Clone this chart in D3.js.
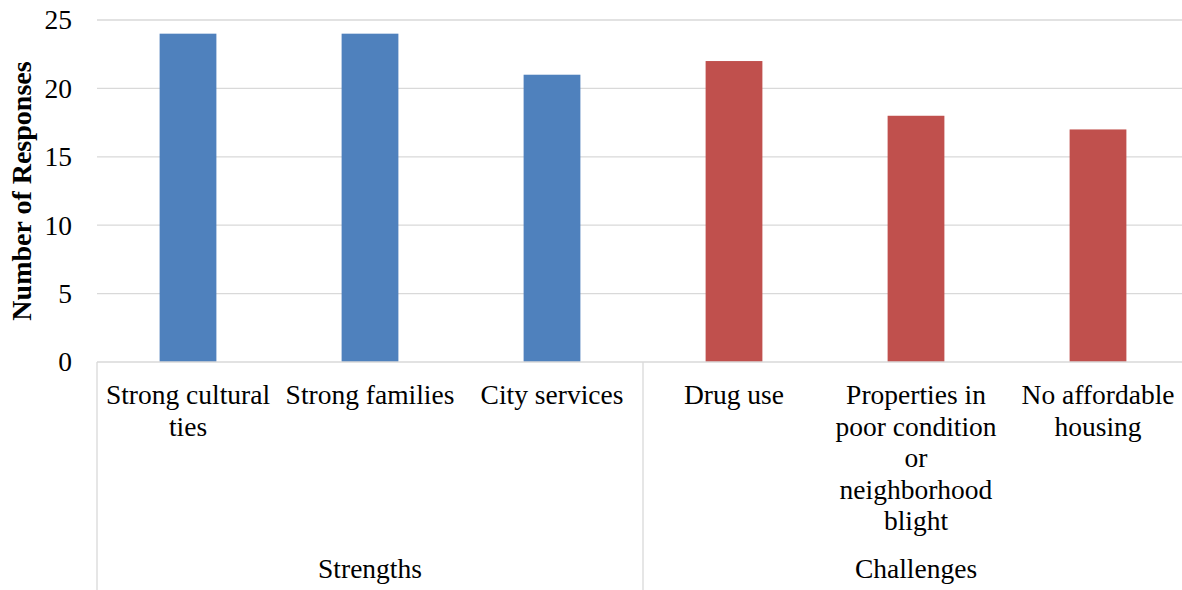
<!DOCTYPE html>
<html>
<head>
<meta charset="utf-8">
<script src="https://cdn.jsdelivr.net/npm/d3@7"></script>
<style>
  html, body { margin: 0; padding: 0; background: #fff; }
  svg { display: block; }
  text { font-family: "Liberation Serif", "Times New Roman", serif; fill: #000; }
</style>
</head>
<body>
<svg id="chart" width="1182" height="590"></svg>
<script>
// Survey responses: community strengths and challenges
const categories = ["Strong cultural ties", "Strong families", "City services",
                    "Drug use", "Properties in poor condition or neighborhood blight", "No affordable housing"];
const groups = ["Strengths", "Strengths", "Strengths", "Challenges", "Challenges", "Challenges"];
const values = [24, 24, 21, 22, 18, 17];
const groupNames = ["Strengths", "Challenges"];
const yTicks = [0, 5, 10, 15, 20, 25];

const colors = { Strengths: "#4f81bd", Challenges: "#c0504d" };
const gridColor = "#d9d9d9";
const fontSize = 27.5;

const svg = d3.select("#chart");
const margin = { left: 97, top: 20, right: -7, bottom: 228 };
const W = 1182, H = 590;
const plotRight = W - margin.right;
const plotBottom = H - margin.bottom;

const x = d3.scaleBand().domain(categories).range([margin.left, plotRight]).padding(0);
const y = d3.scaleLinear().domain([0, 25]).range([plotBottom, margin.top]);

// Horizontal gridlines
svg.append("g").selectAll("line").data(yTicks.filter(t => t > 0)).join("line")
  .attr("x1", margin.left).attr("x2", plotRight)
  .attr("y1", d => y(d)).attr("y2", d => y(d))
  .attr("stroke", gridColor).attr("stroke-width", 1.3);

// Y axis tick labels
const yAxis = d3.axisLeft(y).tickValues(yTicks).tickSize(0).tickPadding(25);
const yg = svg.append("g").attr("transform", `translate(${margin.left},0)`).call(yAxis);
yg.select(".domain").remove();
yg.selectAll("text").style("font-size", fontSize + "px")
  .style("font-family", '"Liberation Serif", "Times New Roman", serif').attr("fill", "#000");

// Bars
const barW = x.bandwidth() * 0.312;
svg.append("g").selectAll("rect").data(categories).join("rect")
  .attr("x", d => x(d) + (x.bandwidth() - barW) / 2)
  .attr("width", barW)
  .attr("y", (d, i) => y(values[i]))
  .attr("height", (d, i) => y(0) - y(values[i]))
  .attr("fill", (d, i) => colors[groups[i]]);

// Category axis baseline
svg.append("line")
  .attr("x1", margin.left).attr("x2", plotRight)
  .attr("y1", y(0)).attr("y2", y(0))
  .attr("stroke", gridColor).attr("stroke-width", 1.3);

// Group separators (vertical)
const groupStart = groupNames.map(g => x(categories[groups.indexOf(g)]));
const groupEnd = groupNames.map(g => x(categories[groups.lastIndexOf(g)]) + x.bandwidth());
const seps = Array.from(new Set([...groupStart, ...groupEnd]));
svg.append("g").selectAll("line").data(seps).join("line")
  .attr("x1", d => d).attr("x2", d => d)
  .attr("y1", y(0)).attr("y2", H)
  .attr("stroke", gridColor).attr("stroke-width", 1.3);

// Category labels with word wrapping inside each band
const maxW = x.bandwidth() - 2;
const lineH = 31.5;
const catG = svg.append("g");
categories.forEach(c => {
  const cx = x(c) + x.bandwidth() / 2;
  const t = catG.append("text").attr("text-anchor", "middle")
    .style("font-size", fontSize + "px");
  const words = c.split(" ");
  let lines = [], line = [];
  const probe = catG.append("text").style("font-size", fontSize + "px");
  words.forEach(w => {
    const test = line.concat(w).join(" ");
    probe.text(test);
    if (line.length && probe.node().getComputedTextLength() > maxW) {
      lines.push(line.join(" "));
      line = [w];
    } else line.push(w);
  });
  lines.push(line.join(" "));
  probe.remove();
  lines.forEach((l, i) => {
    t.append("tspan").attr("x", cx).attr("y", y(0) + 42 + i * lineH).text(l);
  });
});

// Group labels
svg.append("g").selectAll("text").data(groupNames).join("text")
  .attr("x", (d, i) => (groupStart[i] + groupEnd[i]) / 2)
  .attr("y", 578)
  .attr("text-anchor", "middle")
  .style("font-size", fontSize + "px")
  .text(d => d);

// Y axis title
svg.append("text")
  .attr("transform", `translate(31,${(y(0) + y(25)) / 2}) rotate(-90)`)
  .attr("text-anchor", "middle")
  .style("font-size", "28px").style("font-weight", "bold")
  .text("Number of Responses");
</script>
</body>
</html>
